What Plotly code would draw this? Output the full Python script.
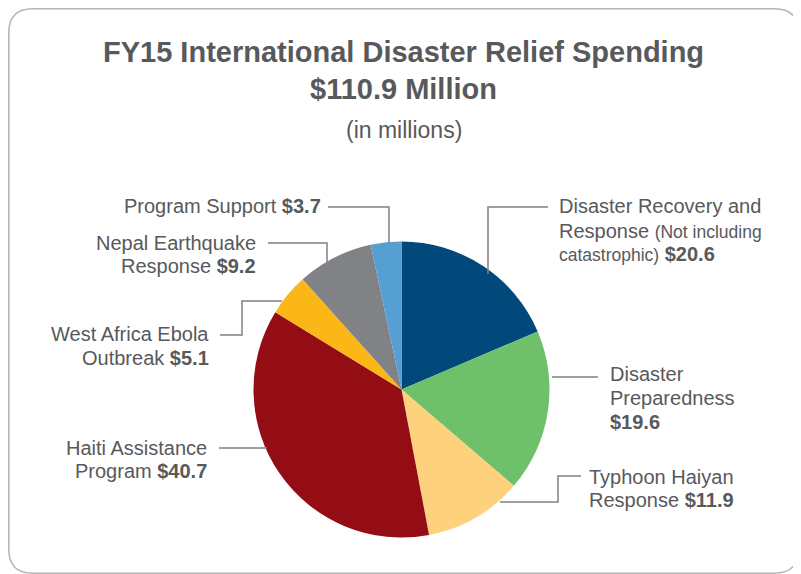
import plotly.graph_objects as go

# ---- data ----
categories = [
    "Disaster Recovery and Response (Not including catastrophic)",
    "Disaster Preparedness",
    "Typhoon Haiyan Response",
    "Haiti Assistance Program",
    "West Africa Ebola Outbreak",
    "Nepal Earthquake Response",
    "Program Support",
]
values = [20.6, 19.6, 11.9, 40.7, 5.1, 9.2, 3.7]
colors = ["#00497a", "#6ec06a", "#fed27d", "#940c14", "#fbb717", "#808285", "#569fd3"]
title_line1 = "FY15 International Disaster Relief Spending"
title_line2 = "$110.9 Million"
subtitle = "(in millions)"

# page body has an 8px margin; work in viewport pixel coordinates
OFF = 8
W, H = 801 - OFF, 574 - OFF
TXT = "#58595b"
LINE = "#808080"
FONT = "Liberation Sans, Arial, sans-serif"


def px(x):
    return (x - OFF) / W


def py(y):
    return 1 - (y - OFF) / H


def path(cmds):
    out = []
    for c in cmds:
        if c[0] in ("M", "L"):
            out.append(f"{c[0]} {px(c[1]):.5f},{py(c[2]):.5f}")
        elif c[0] == "Q":
            out.append(f"Q {px(c[1]):.5f},{py(c[2]):.5f} {px(c[3]):.5f},{py(c[4]):.5f}")
        elif c[0] == "Z":
            out.append("Z")
    return " ".join(out)


fig = go.Figure()
fig.add_trace(go.Pie(
    labels=categories,
    values=values,
    sort=False,
    direction="clockwise",
    rotation=0,
    marker=dict(colors=colors, line=dict(width=0)),
    textinfo="none",
    hoverinfo="label+value",
    showlegend=False,
    domain=dict(x=[px(253.5), px(549.5)], y=[py(537.5), py(241.5)]),
))

annotations = []


def ann(text, x, y, size, xanchor="center", align="center", yanchor="middle"):
    annotations.append(dict(
        text=text, x=px(x), y=py(y), xref="paper", yref="paper",
        xanchor=xanchor, yanchor=yanchor, align=align, showarrow=False,
        font=dict(family=FONT, size=size, color=TXT),
    ))


ann(f"<b>{title_line1}</b>", 403, 52, 29)
ann(f"<b>{title_line2}</b>", 403, 89, 29)
ann(subtitle, 404, 130, 23)

LS = 20
small = "<span style='font-size:17.5px'>"
label_lines = [
    # (lines, x, y of each line, side)
    (["Disaster Recovery and",
      "Response " + small + "(Not including</span>",
      small + "catastrophic)</span> <b>$" + f"{values[0]}" + "</b>"],
     557, [206, 231, 254], "left"),
    (["Disaster", "Preparedness", f"<b>${values[1]}</b>"], 608, [374, 398, 422], "left"),
    (["Typhoon Haiyan", f"Response <b>${values[2]}</b>"], 587, [477, 500], "left"),
    (["Haiti Assistance", f"Program <b>${values[3]}</b>"], 209, [448, 471], "right"),
    (["West Africa Ebola", f"Outbreak <b>${values[4]}</b>"], 211, [334, 358], "right"),
    (["Nepal Earthquake", f"Response <b>${values[5]}</b>"], 258, [243, 266], "right"),
    ([f"Program Support <b>${values[6]}</b>"], 323, [206], "right"),
]
for lines, x, ys, side in label_lines:
    for t, y in zip(lines, ys):
        ann(t, x, y, LS, xanchor=side, align=side)

shapes = []
leaders = [
    [("M", 328, 207), ("L", 389, 207), ("L", 389, 243)],
    [("M", 268, 243), ("L", 327, 243), ("L", 327, 262)],
    [("M", 220, 335), ("L", 242, 335), ("L", 242, 301), ("L", 282, 301)],
    [("M", 219, 448), ("L", 267, 448)],
    [("M", 548, 207), ("L", 488, 207), ("L", 488, 274)],
    [("M", 552, 377), ("L", 598, 377)],
    [("M", 500, 502), ("L", 558, 502), ("L", 558, 476), ("L", 581, 476)],
]
for ld in leaders:
    shapes.append(dict(type="path", xref="paper", yref="paper", path=path(ld),
                       line=dict(color=LINE, width=1.5)))

# rounded frame
x0, y0, x1, y1, r = 8.8, 8.8, 798.5, 573.2, 24
frame = [("M", x0 + r, y0), ("L", x1 - r, y0), ("Q", x1, y0, x1, y0 + r),
         ("L", x1, y1 - r), ("Q", x1, y1, x1 - r, y1), ("L", x0 + r, y1),
         ("Q", x0, y1, x0, y1 - r), ("L", x0, y0 + r), ("Q", x0, y0, x0 + r, y0), ("Z",)]
shapes.append(dict(type="path", xref="paper", yref="paper", path=path(frame),
                   line=dict(color="#b4b4b4", width=1.5), layer="below"))

fig.update_layout(
    width=W, height=H,
    margin=dict(l=0, r=0, t=0, b=0),
    paper_bgcolor="white", plot_bgcolor="white",
    annotations=annotations, shapes=shapes,
    showlegend=False,
)

fig.write_html("out.html")
